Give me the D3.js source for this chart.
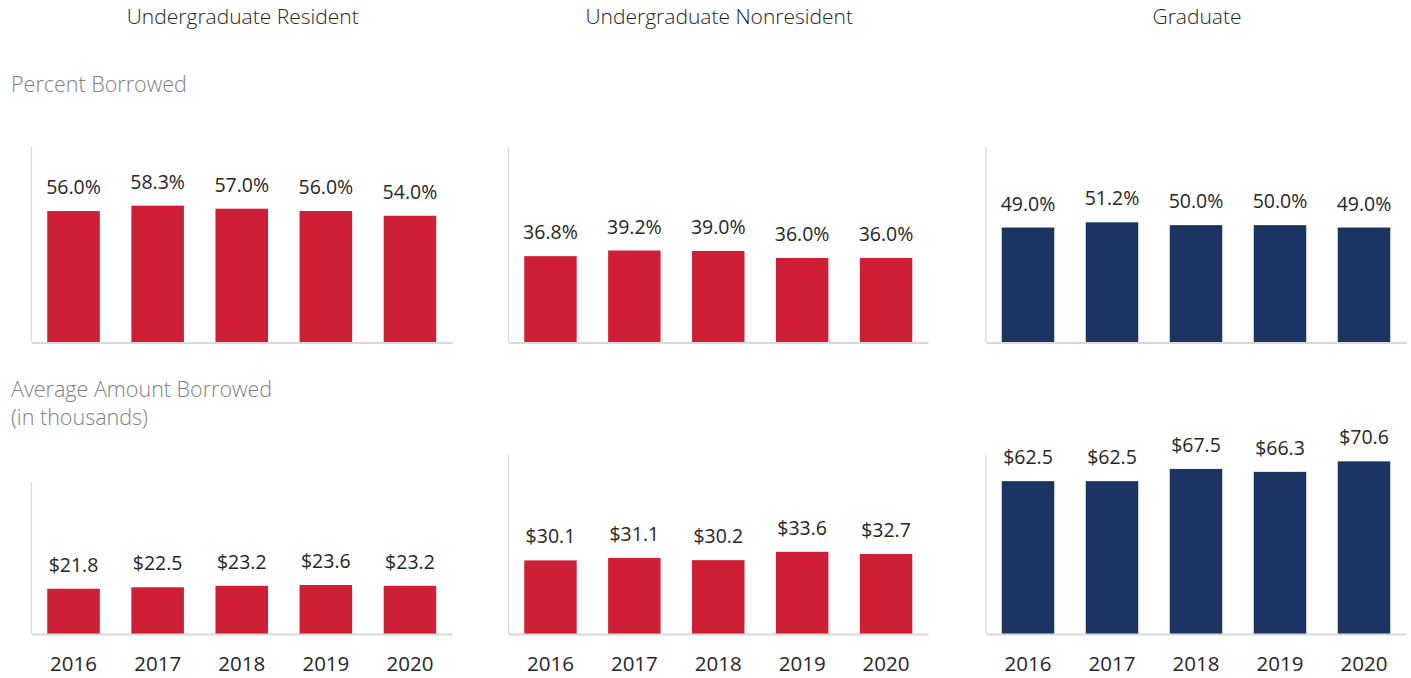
<!DOCTYPE html>
<html>
<head>
<meta charset="utf-8">
<script src="https://cdn.jsdelivr.net/npm/d3@7"></script>
<style>
  html, body { margin: 0; padding: 0; background: #fff; }
  svg { display: block; font-family: "Open Sans", "Noto Sans", sans-serif; }
</style>
</head>
<body>
<svg id="chart" width="1411" height="678"></svg>
<script>
// Loan data, 2016-2020
const years = ["2016", "2017", "2018", "2019", "2020"];
const groups = ["Undergraduate Resident", "Undergraduate Nonresident", "Graduate"];

const pctResident    = [56.0, 58.3, 57.0, 56.0, 54.0];
const pctNonresident = [36.8, 39.2, 39.0, 36.0, 36.0];
const pctGraduate    = [49.0, 51.2, 50.0, 50.0, 49.0];

const amtResident    = [21.8, 22.5, 23.2, 23.6, 23.2];
const amtNonresident = [30.1, 31.1, 30.2, 33.6, 32.7];
const amtGraduate    = [62.5, 62.5, 67.5, 66.3, 70.6];

const rowLabels = [["Percent Borrowed"], ["Average Amount Borrowed", "(in thousands)"]];

const RED = "#CE1F37", NAVY = "#1C3462";
const TEXT = "#262626", GREY_TEXT = "#7F7F7F", AXIS = "#D9D9D9";

const svg = d3.select("#chart");

// Horizontal extents of each column's plot area
const cols = [[31.5, 452], [508.5, 928], [986, 1406]];

const panels = [
  { col: 0, values: pctResident,    color: RED,  top: 147, base: 342.5, max: 83.3, fmt: d => d.toFixed(1) + "%" },
  { col: 1, values: pctNonresident, color: RED,  top: 147, base: 342.5, max: 83.3, fmt: d => d.toFixed(1) + "%" },
  { col: 2, values: pctGraduate,    color: NAVY, top: 147, base: 342.5, max: 83.3, fmt: d => d.toFixed(1) + "%" },
  { col: 0, values: amtResident,    color: RED,  top: 482, base: 634,   max: 73.2, fmt: d => "$" + d.toFixed(1), years: true },
  { col: 1, values: amtNonresident, color: RED,  top: 455, base: 634,   max: 73.2, fmt: d => "$" + d.toFixed(1), years: true },
  { col: 2, values: amtGraduate,    color: NAVY, top: 455, base: 634,   max: 73.2, fmt: d => "$" + d.toFixed(1), years: true }
];

// Column headings
groups.forEach((g, i) => {
  svg.append("text")
    .attr("x", (cols[i][0] + cols[i][1]) / 2 + 1)
    .attr("y", 24)
    .attr("text-anchor", "middle")
    .attr("font-size", 21)
    .attr("font-weight", 300)
    .attr("fill", TEXT)
    .text(g);
});

// Row headings
const rowY = [92, 396.5];
rowLabels.forEach((lines, r) => {
  lines.forEach((line, k) => {
    svg.append("text")
      .attr("x", 11)
      .attr("y", rowY[r] + k * 28.5)
      .attr("font-size", 21.5)
      .attr("font-weight", 300)
      .attr("fill", GREY_TEXT)
      .text(line);
  });
});

panels.forEach(p => {
  const [x0, x1] = cols[p.col];
  const x = d3.scaleBand().domain(years).range([x0, x1]).paddingInner(0.375).paddingOuter(0.1875);
  const y = d3.scaleLinear().domain([0, p.max]).range([p.base, p.top]);
  const g = svg.append("g");
  const data = years.map((yr, i) => ({ yr, v: p.values[i] }));

  g.selectAll("rect").data(data).join("rect")
    .attr("x", d => x(d.yr))
    .attr("y", d => y(d.v))
    .attr("width", x.bandwidth())
    .attr("height", d => y(0) - y(d.v))
    .attr("fill", p.color);

  g.selectAll("text.val").data(data).join("text")
    .attr("class", "val")
    .attr("x", d => x(d.yr) + x.bandwidth() / 2)
    .attr("y", d => y(d.v) - 17)
    .attr("text-anchor", "middle")
    .attr("font-size", 19.5)
    .attr("font-weight", 400)
    .attr("fill", TEXT)
    .text(d => p.fmt(d.v));

  // Value axis line (no ticks)
  g.append("line")
    .attr("x1", x0).attr("x2", x0)
    .attr("y1", y(p.max)).attr("y2", y(0))
    .attr("stroke", AXIS).attr("stroke-width", 1.2);

  // Category axis
  const ax = g.append("g")
    .attr("transform", `translate(0,${y(0)})`)
    .call(d3.axisBottom(x).tickSize(0).tickPadding(p.years ? 22 : 0).tickFormat(p.years ? (d => d) : (() => "")));
  ax.select(".domain").attr("stroke", AXIS).attr("stroke-width", 2);
  ax.selectAll("text")
    .attr("font-size", 20.5)
    .attr("font-family", "\"Open Sans\", \"Noto Sans\", sans-serif")
    .attr("font-weight", 400)
    .attr("fill", TEXT);
});
</script>
</body>
</html>
